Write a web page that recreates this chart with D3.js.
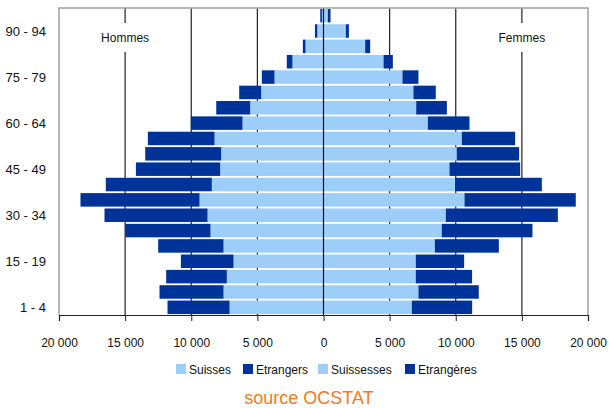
<!DOCTYPE html>
<html><head><meta charset="utf-8">
<script src="https://cdn.jsdelivr.net/npm/d3@7"></script>
<style>body{margin:0;background:#fff}svg{display:block;font-family:"Liberation Sans",Arial,sans-serif}</style>
</head><body><svg id="c" width="609" height="408"></svg>
<script>
const ageGroups = ["1 - 4","5 - 9","10 - 14","15 - 19","20 - 24","25 - 29","30 - 34","35 - 39","40 - 44","45 - 49","50 - 54","55 - 59","60 - 64","65 - 69","70 - 74","75 - 79","80 - 84","85 - 89","90 - 94","95 +"];
const shownAgeLabels = ["1 - 4","15 - 19","30 - 34","45 - 49","60 - 64","75 - 79","90 - 94"];
const suisses     = [7105,7560,7310,6805,7560,8545,8770,9375,8445,7810,7735,8240,6125,5540,4710,3705,2345,1360,470,120];
const etrangers   = [4690,4840,4585,3980,4940,6450,7790,9000,8015,6375,5745,5040,3905,2570,1665,960,430,200,175,125];
const suissesses  = [6680,7180,6980,6980,8420,8945,9250,10660,9955,9525,10080,10460,7890,7010,6800,5970,4540,3150,1690,330];
const etrangeres  = [4560,4560,4255,3655,4840,6855,8470,8415,6555,5345,4710,4030,3150,2320,1690,1210,705,380,230,200];
const xTicks = [-20000,-15000,-10000,-5000,0,5000,10000,15000,20000];
const seriesNames = ["Suisses","Etrangers","Suissesses","Etrangères"];
const sideLabels = ["Hommes","Femmes"];
const sourceText = "source OCSTAT";

const light = "#9dcdf9", dark = "#003399";
const svg = d3.select("#c");
const L = 59, R = 588, T = 8, B = 315;
const x = d3.scaleLinear().domain([-20000,20000]).range([L,R]);
const y = d3.scaleBand().domain(ageGroups).range([B,T]).paddingInner(0.12).paddingOuter(0.06);

// gridlines (behind bars)
svg.append("g").selectAll("line").data(xTicks.filter(v=>v!==0 && Math.abs(v)!==20000)).join("line")
  .attr("x1",d=>x(d)).attr("x2",d=>x(d)).attr("y1",T).attr("y2",B)
  .attr("stroke","#222").attr("stroke-width",1.2);

// side labels with white boxes
const sl = [[-15000,sideLabels[0]],[15000,sideLabels[1]]];
svg.append("g").selectAll("rect").data(sl).join("rect")
  .attr("x",d=>x(d[0])-27).attr("y",23).attr("width",54).attr("height",29).attr("fill","#fff");
svg.append("g").selectAll("text").data(sl).join("text")
  .attr("x",d=>x(d[0])).attr("y",42).attr("text-anchor","middle").attr("font-size",12).attr("fill","#111").text(d=>d[1]);

const bh = y.bandwidth();
const g = svg.append("g");
function bars(cls, x0f, x1f, color){
  g.selectAll("rect."+cls).data(ageGroups).join("rect").attr("class",cls)
   .attr("x",(d,i)=>Math.min(x(x0f(i)),x(x1f(i))))
   .attr("width",(d,i)=>Math.abs(x(x1f(i))-x(x0f(i))))
   .attr("y",d=>y(d)).attr("height",bh).attr("fill",color);
}
bars("ms", i=>0, i=>-suisses[i], light);
bars("me", i=>-suisses[i], i=>-(suisses[i]+etrangers[i]), dark);
bars("fs", i=>0, i=>suissesses[i], light);
bars("fe", i=>suissesses[i], i=>suissesses[i]+etrangeres[i], dark);

// zero axis line on top
svg.append("line").attr("x1",x(0)).attr("x2",x(0)).attr("y1",T).attr("y2",B).attr("stroke","#111").attr("stroke-width",1.2);

// plot border
svg.append("path").attr("d",`M${L},${B}V${T}H${R}V${B}`).attr("fill","none").attr("stroke","#a0a0a0").attr("stroke-width",1.5);

// x axis
const xa = svg.append("g").attr("transform",`translate(0,${B})`)
  .call(d3.axisBottom(x).tickValues(xTicks).tickSize(6).tickPadding(17)
    .tickFormat(v=>d3.format(",")(Math.abs(v)).replace(/,/g," ")));
xa.select(".domain").attr("stroke","#222").attr("stroke-width",1.2);
xa.selectAll(".tick line").attr("stroke","#222");
xa.selectAll("text").attr("font-size",12).attr("fill","#111").attr("font-family","Liberation Sans, Arial, sans-serif");

// y labels
svg.append("g").selectAll("text").data(shownAgeLabels).join("text")
  .attr("x",46).attr("y",d=>y(d)+bh/2).attr("dy","0.35em").attr("text-anchor","end")
  .attr("font-size",13).attr("fill","#111").text(d=>d);

// legend
const leg = [[176,seriesNames[0],light],[243,seriesNames[1],dark],[318,seriesNames[2],light],[405,seriesNames[3],dark]];
const lg = svg.append("g");
lg.selectAll("rect").data(leg).join("rect").attr("x",d=>d[0]).attr("y",364).attr("width",10).attr("height",10).attr("fill",d=>d[2]);
lg.selectAll("text").data(leg).join("text").attr("x",d=>d[0]+13).attr("y",373.5).attr("font-size",12).attr("fill","#111").text(d=>d[1]);

svg.append("text").attr("x",309).attr("y",404).attr("text-anchor","middle").attr("font-size",18).attr("fill","#f47a20").text(sourceText);
</script></body></html>
